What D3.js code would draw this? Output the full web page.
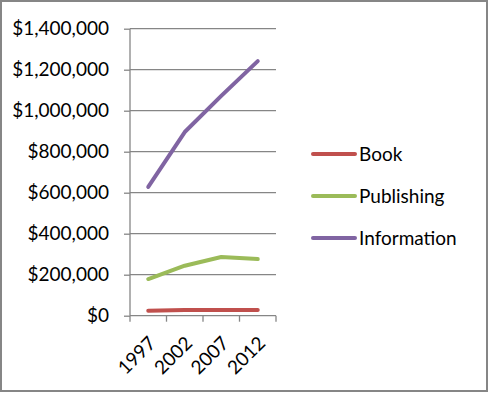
<!DOCTYPE html>
<meta charset="utf-8">
<style>
  body { margin: 0; background: #fff; }
  text { font-family: Lato, "Open Sans", sans-serif; font-size: 19px; fill: #000; }
  .grid line { stroke: #868686; stroke-width: 1.3px; }
  .axis path, .axis line { stroke: #868686; stroke-width: 1.3px; }
  .series { fill: none; stroke-width: 4px; stroke-linecap: round; stroke-linejoin: round; }
</style>
<svg width="489" height="393"></svg>
<script src="https://d3js.org/d3.v7.min.js"></script>
<script>
  var years = ["1997", "2002", "2007", "2012"];
  var seriesNames = ["Book", "Publishing", "Information"];
  var seriesColors = ["#C0504D", "#9BBB59", "#8064A2"];
  var book = [24000, 28000, 28000, 28000];
  var publishing = [179000, 244000, 286000, 276000];
  var information = [628000, 896000, 1072000, 1242000];
  var yTicks = [0, 200000, 400000, 600000, 800000, 1000000, 1200000, 1400000];

  var svg = d3.select("svg");

  // chart border
  svg.append("rect")
    .attr("x", 1).attr("y", 1).attr("width", 486).attr("height", 390)
    .attr("fill", "none").attr("stroke", "#868686").attr("stroke-width", 2);

  var plotLeft = 130, plotRight = 276, plotTop = 28.7, plotBottom = 315.7;

  var x = d3.scaleBand().domain(years).range([plotLeft, plotRight]);
  var y = d3.scaleLinear().domain([0, 1400000]).range([plotBottom, plotTop]);

  // gridlines
  svg.append("g").attr("class", "grid")
    .selectAll("line").data(yTicks.slice(1)).join("line")
    .attr("x1", plotLeft).attr("x2", plotRight)
    .attr("y1", function (d) { return y(d); }).attr("y2", function (d) { return y(d); });

  var fmt = d3.format("$,");
  svg.append("g").attr("class", "axis")
    .attr("transform", "translate(" + plotLeft + ",0)")
    .call(d3.axisLeft(y).tickValues(yTicks).tickFormat(fmt).tickSize(6).tickPadding(15))
    .call(function (g) {
      g.attr("font-family", null).attr("font-size", null);
      g.select(".domain").attr("d", "M0," + plotTop + "V" + plotBottom);
    });

  // x axis with ticks at category boundaries
  var xg = svg.append("g").attr("class", "axis")
    .attr("transform", "translate(0," + plotBottom + ")");
  xg.append("line").attr("x1", plotLeft).attr("x2", plotRight).attr("y1", 0).attr("y2", 0);
  var bounds = years.map(function (d) { return x(d); }).concat([plotRight]);
  xg.selectAll(".tk").data(bounds).join("line").attr("class", "tk")
    .attr("x1", function (d) { return d; }).attr("x2", function (d) { return d; })
    .attr("y1", 0).attr("y2", 6);
  xg.selectAll(".lbl").data(years).join("text").attr("class", "lbl")
    .attr("text-anchor", "end")
    .attr("transform", function (d) {
      return "translate(" + (x(d) + x.bandwidth() / 2 + 4) + ",24) rotate(-45)";
    })
    .attr("dy", "0.35em")
    .text(function (d) { return d; });

  var data = [book, publishing, information];
  var line = d3.line()
    .x(function (d, i) { return x(years[i]) + x.bandwidth() / 2; })
    .y(function (d) { return y(d); });

  svg.selectAll(".series").data(data).join("path")
    .attr("class", "series")
    .attr("stroke", function (d, i) { return seriesColors[i]; })
    .attr("d", line);

  // legend
  var lg = svg.selectAll(".leg").data(seriesNames).join("g").attr("class", "leg")
    .attr("transform", function (d, i) { return "translate(313," + (154 + i * 42) + ")"; });
  lg.append("line").attr("x1", 0).attr("x2", 42).attr("y1", 0).attr("y2", 0)
    .attr("stroke", function (d, i) { return seriesColors[i]; })
    .attr("stroke-width", 4).attr("stroke-linecap", "round");
  lg.append("text").attr("x", 46).attr("dy", "0.35em").text(function (d) { return d; });
</script>
